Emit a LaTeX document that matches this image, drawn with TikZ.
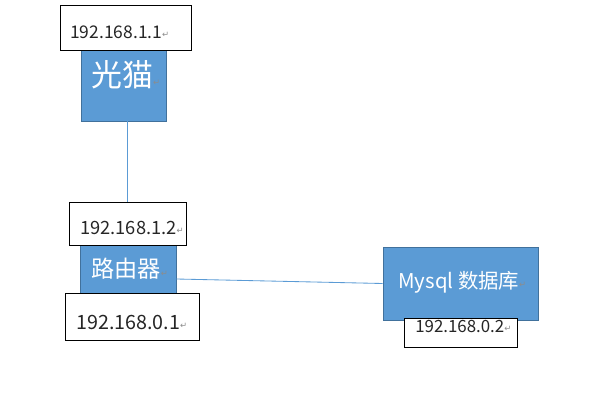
\documentclass[tikz,border=0pt]{standalone}
\usepackage{fontspec}
\setmainfont{Noto Sans CJK SC}
\newfontfamily\symfont{DejaVu Sans}
\usetikzlibrary{positioning}
\definecolor{boxblue}{RGB}{91,155,213}
\definecolor{boxedge}{RGB}{65,113,156}
\definecolor{markgray}{RGB}{140,140,140}
\newcommand{\retmark}{{\symfont\fontsize{6}{6}\selectfont\color{markgray}\raisebox{0.2ex}{↵}}}
\tikzset{
  devbox/.style={draw=boxedge, fill=boxblue, line width=0.6pt, inner sep=0pt},
  ipbox/.style={draw=black, fill=white, line width=0.6pt, inner sep=0pt},
  devtext/.style={text=white, inner sep=0pt, anchor=west},
  iptext/.style={text=black!85, inner sep=0pt, anchor=west},
  link/.style={draw=boxblue, line width=0.6pt}
}
\begin{document}
\begin{tikzpicture}[x=0.025cm, y=-0.025cm]
  \useasboundingbox (0,0) rectangle (600,400);
  %% devices
  \node[devbox, minimum width=85*0.025cm, minimum height=71*0.025cm] (gm) at (123.5,85.5) {};
  \node[devbox, minimum width=96*0.025cm, minimum height=48*0.025cm] (ly) at (128,269) {};
  \node[devbox, minimum width=155*0.025cm, minimum height=73*0.025cm] (db) at (460.5,283.5) {};
  \node[devtext, font=\fontsize{22}{22}\selectfont] (gm_txt) at (91,75) {光猫\retmark};
  \node[devtext, font=\fontsize{16.5}{16.5}\selectfont] (ly_txt) at (91,269) {路由器\retmark};
  \node[devtext, font=\fontsize{14.5}{14.5}\selectfont] (db_txt) at (398,282) {Mysql 数据库\retmark};

  %% addresses
  \node[ipbox, minimum width=131*0.025cm, minimum height=45*0.025cm] (ip11) at (125.5,27.5) {};
  \node[ipbox, minimum width=117*0.025cm, minimum height=43*0.025cm] (ip12) at (127.5,223.5) {};
  \node[ipbox, minimum width=134*0.025cm, minimum height=47*0.025cm] (ip01) at (132,316.5) {};
  \node[ipbox, minimum width=113*0.025cm, minimum height=29*0.025cm] (ip02) at (460.5,332.5) {};
  \node[iptext, font=\fontsize{12.4}{12.4}\selectfont] (ip11_txt) at (70,32) {192.168.1.1\retmark};
  \node[iptext, font=\fontsize{13}{13}\selectfont]   (ip12_txt) at (80,228) {192.168.1.2\retmark};
  \node[iptext, font=\fontsize{14}{14}\selectfont]   (ip01_txt) at (76,322) {192.168.0.1\retmark};
  \node[iptext, font=\fontsize{12}{12}\selectfont]   (ip02_txt) at (415,326) {192.168.0.2\retmark};

  %% links
  \draw[link] (ip12.north) -- (ip12.north |- gm.south);
  \draw[link] ([yshift=-0.25cm]ly.east) -- (db.west);
\end{tikzpicture}
\end{document}
